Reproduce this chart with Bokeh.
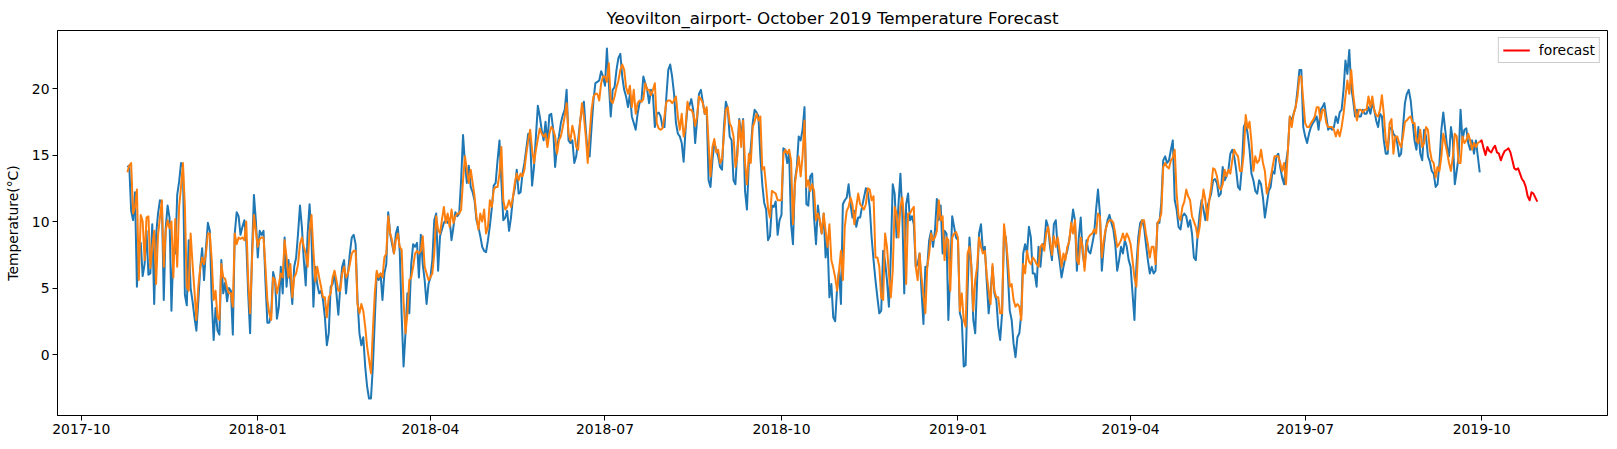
import pandas as pd
from bokeh.plotting import figure
from bokeh.models import Range1d, FixedTicker, DatetimeTickFormatter, Legend, LegendItem
from bokeh.embed import file_html
from bokeh.resources import INLINE

# ---------------- data ----------------
title_text = "Yeovilton_airport- October 2019 Temperature Forecast"
y_label = "Temperature(°C)"
x_tick_labels = ["2017-10", "2018-01", "2018-04", "2018-07", "2018-10",
                 "2019-01", "2019-04", "2019-07", "2019-10"]
y_tick_values = [0, 5, 10, 15, 20]
legend_label = "forecast"

actual_start = "2017-10-25"      # daily observed temperature (blue)
fitted_start = "2017-10-25"      # daily model fit (orange)
forecast_start = "2019-09-30"    # daily forecast (red)

actual_temp = [
    14.1, 14.2, 10.8, 10.1, 12.2, 5.1, 8.3, 8.4, 5.9, 6.8,
    9.3, 6.0, 6.1, 9.8, 3.8, 9.0, 10.6, 11.6, 11.5, 4.1,
    9.5, 11.2, 10.3, 3.3, 7.8, 7.6, 12.0, 13.0, 14.4, 14.1,
    4.5, 3.7, 8.6, 5.0, 4.0, 2.8, 1.8, 4.0, 6.5, 8.0,
    5.6, 8.0, 9.9, 9.3, 4.1, 1.1, 3.5, 1.8, 1.5, 7.1,
    4.6, 5.4, 4.0, 5.0, 4.8, 1.5, 9.1, 10.7, 10.4, 9.0,
    9.6, 10.1, 8.5, 4.6, 1.6, 7.6, 12.0, 10.1, 7.3, 9.3,
    9.0, 9.3, 5.5, 2.4, 2.4, 3.1, 6.2, 5.6, 2.7, 3.6,
    6.6, 4.6, 8.8, 5.1, 7.1, 5.5, 3.8, 6.6, 7.3, 9.1,
    11.2, 9.6, 7.1, 5.2, 9.1, 11.3, 8.8, 3.6, 6.6, 5.3,
    4.6, 4.8, 4.1, 2.8, 0.7, 1.6, 5.1, 5.3, 6.2, 4.6,
    3.0, 5.1, 6.6, 7.1, 4.6, 6.1, 7.6, 8.8, 9.0, 8.3,
    4.1, 1.6, 0.7, 1.3, -0.9, -2.4, -3.3, -3.3, -0.9, 2.6,
    6.1, 5.6, 6.1, 4.1, 6.1, 6.8, 10.7, 9.1, 8.3, 7.6,
    9.1, 9.6, 7.8, 3.0, -0.9, 1.6, 4.6, 3.1, 6.8, 8.3,
    8.1, 8.4, 5.8, 9.0, 6.8, 5.6, 3.8, 5.3, 5.8, 7.1,
    10.1, 10.6, 6.3, 8.9, 9.4, 9.9, 10.1, 9.9, 10.2, 8.6,
    9.6, 10.7, 10.4, 10.6, 13.1, 16.5, 14.4, 12.9, 14.2, 12.6,
    12.2, 11.6, 10.1, 9.6, 8.9, 8.1, 7.8, 7.7, 8.6, 9.7,
    11.0, 12.7, 12.9, 14.6, 16.1, 13.0, 10.1, 10.3, 10.8, 9.3,
    10.3, 11.8, 12.5, 13.9, 12.1, 12.2, 13.6, 14.4, 15.5, 16.6,
    16.1, 12.7, 14.1, 16.4, 18.7, 17.9, 16.9, 16.1, 17.5, 15.9,
    18.0, 18.1, 16.9, 14.1, 15.6, 16.4, 17.4, 18.0, 18.4, 19.9,
    16.1, 15.9, 16.1, 14.4, 14.9, 16.1, 17.5, 18.4, 19.0, 16.9,
    15.1, 14.9, 17.1, 19.1, 20.4, 20.5, 20.6, 21.3, 20.9, 20.2,
    23.0, 20.4, 17.9, 19.9, 20.1, 21.4, 22.3, 22.6, 20.9, 19.9,
    19.4, 18.6, 19.6, 17.9, 17.4, 16.9, 18.1, 18.9, 19.1, 20.9,
    20.4, 19.9, 18.9, 19.9, 19.5, 17.1, 18.1, 18.2, 17.9, 17.1,
    17.1, 19.4, 21.4, 21.8, 20.9, 19.6, 17.4, 16.6, 16.4, 15.9,
    14.5, 16.9, 18.6, 18.7, 19.2, 18.4, 15.9, 17.6, 19.6, 19.9,
    19.0, 18.1, 18.4, 13.1, 12.6, 14.6, 15.9, 15.4, 14.9, 14.1,
    13.9, 17.1, 19.0, 18.5, 16.4, 16.1, 13.1, 12.8, 15.4, 17.7,
    16.4, 17.7, 12.3, 10.9, 14.4, 15.5, 17.4, 18.4, 18.2, 17.9,
    14.9, 12.8, 11.4, 10.9, 8.6, 8.9, 11.2, 11.1, 11.5, 9.0,
    10.1, 10.5, 15.5, 15.4, 14.4, 15.1, 9.8, 8.3, 13.1, 14.1,
    16.4, 16.1, 16.9, 18.6, 11.3, 11.2, 13.4, 13.6, 10.3, 8.3,
    11.2, 10.0, 9.1, 10.6, 7.3, 8.6, 4.3, 5.3, 2.8, 2.5,
    5.0, 6.3, 3.8, 11.3, 11.6, 11.8, 12.8, 11.3, 10.3, 10.8,
    9.6, 10.3, 10.3, 11.1, 11.8, 12.5, 12.2, 11.1, 8.8, 7.1,
    5.6, 4.3, 3.1, 3.3, 7.8, 7.0, 5.6, 3.6, 7.5, 12.8,
    12.1, 8.8, 11.3, 13.6, 10.6, 4.6, 11.3, 12.1, 10.1, 10.4,
    9.8, 6.6, 6.8, 7.6, 4.8, 2.3, 6.6, 6.6, 8.6, 9.3,
    8.1, 9.3, 11.7, 10.1, 11.2, 7.6, 9.3, 9.1, 2.6, 6.3,
    10.4, 9.6, 8.8, 8.6, 3.1, 2.6, -0.9, -0.8, 4.8, 8.8,
    6.6, 2.6, 1.6, 5.6, 9.1, 9.8, 7.8, 8.1, 5.5, 3.1,
    4.6, 6.6, 4.6, 4.1, 2.1, 1.1, 3.1, 9.1, 8.8, 6.1,
    3.3, 2.6, 0.8, -0.2, 1.3, 1.6, 3.1, 7.6, 8.3, 7.6,
    9.6, 8.8, 6.1, 6.1, 5.1, 8.1, 6.6, 8.3, 8.3, 10.1,
    9.6, 8.1, 7.1, 9.8, 10.1, 8.0, 7.0, 5.8, 6.6, 7.3,
    7.8, 8.6, 9.6, 10.9, 10.1, 6.3, 8.8, 10.3, 7.6, 6.6,
    8.6, 7.8, 7.6, 8.3, 9.1, 10.9, 12.4, 10.6, 6.3, 8.1,
    9.4, 10.1, 10.5, 9.9, 9.4, 8.3, 6.3, 7.1, 8.1, 7.6,
    8.6, 8.1, 7.1, 6.6, 4.6, 2.6, 6.6, 8.8, 9.9, 10.1,
    9.6, 8.3, 7.1, 6.1, 6.6, 6.1, 6.3, 9.9, 9.9, 11.4,
    14.6, 14.9, 14.4, 14.6, 15.4, 16.1, 11.6, 10.9, 9.6, 9.4,
    10.4, 10.6, 10.4, 9.6, 10.1, 9.1, 7.3, 7.1, 9.1, 10.6,
    11.6, 10.9, 10.1, 11.1, 11.6, 12.1, 13.1, 13.2, 12.9, 11.9,
    12.1, 14.1, 13.1, 13.4, 13.9, 15.1, 15.4, 14.9, 13.9, 12.6,
    12.4, 14.1, 17.1, 17.5, 16.6, 15.4, 13.6, 13.1, 12.3, 12.1,
    13.1, 12.8, 11.8, 10.3, 11.3, 12.3, 12.6, 13.8, 13.6, 14.9,
    15.1, 14.1, 13.3, 12.8, 14.4, 15.4, 17.9, 17.6, 18.1, 18.6,
    19.9, 21.4, 21.4, 17.1, 16.4, 15.9, 16.6, 17.1, 17.4, 17.6,
    17.9, 16.9, 18.4, 18.6, 18.9, 17.9, 16.9, 17.1, 16.9, 17.1,
    17.9, 17.4, 18.2, 18.4, 19.9, 22.1, 21.1, 22.9, 20.1, 19.1,
    17.9, 18.4, 17.9, 17.9, 18.4, 18.1, 18.1, 18.6, 18.1, 18.9,
    18.4, 17.6, 17.1, 18.1, 17.9, 16.1, 15.1, 15.1, 16.9, 17.1,
    16.6, 16.4, 15.9, 14.9, 15.1, 17.1, 18.9, 19.6, 19.9, 19.1,
    17.6, 16.1, 15.4, 17.1, 15.1, 14.6, 16.9, 16.4, 14.9, 14.5,
    13.8, 13.6, 12.6, 12.8, 14.4, 16.9, 18.2, 16.9, 15.6, 14.9,
    17.1, 16.1, 12.8, 13.8, 14.9, 18.4, 16.1, 16.9, 17.0, 15.9,
    15.4, 16.1, 15.1, 16.1, 14.9, 13.7,
]

fitted_temp = [
    13.7, 14.2, 14.4, 10.6, 11.1, 12.4, 5.6, 10.5, 10.0, 7.1,
    10.3, 10.4, 6.5, 8.1, 9.3, 5.3, 9.0, 10.3, 11.6, 6.6,
    9.3, 10.1, 9.5, 10.0, 5.8, 10.2, 6.6, 11.1, 12.6, 14.4,
    11.1, 5.1, 4.8, 9.1, 6.8, 4.8, 2.6, 5.1, 6.5, 7.3,
    6.8, 7.6, 9.1, 9.1, 7.1, 4.1, 4.8, 2.8, 2.6, 6.8,
    5.8, 5.7, 5.0, 4.6, 4.6, 3.6, 9.1, 8.3, 8.8, 8.7,
    8.8, 8.6, 10.0, 5.6, 3.1, 7.1, 10.5, 9.3, 8.1, 8.7,
    8.8, 8.8, 6.6, 4.1, 3.1, 2.6, 5.8, 5.6, 4.6, 5.3,
    6.1, 5.8, 8.6, 7.3, 5.8, 6.8, 4.3, 5.8, 6.1, 6.8,
    8.3, 8.8, 8.1, 7.6, 6.6, 9.3, 10.5, 7.8, 5.5, 6.6,
    5.8, 5.1, 4.3, 4.3, 2.8, 4.3, 4.6, 5.8, 6.3, 5.6,
    4.8, 4.8, 6.1, 6.6, 5.8, 6.1, 6.8, 7.6, 7.8, 7.8,
    3.8, 3.1, 3.8, 3.3, 2.1, 0.6, -0.4, -1.4, 1.8, 4.6,
    6.3, 5.8, 6.1, 5.8, 7.3, 7.6, 10.4, 9.1, 8.6, 7.6,
    8.6, 9.1, 8.1, 7.9, 4.0, 1.6, 3.1, 5.6, 5.8, 6.6,
    7.6, 7.8, 7.6, 7.8, 8.9, 6.6, 6.1, 5.6, 5.8, 6.1,
    7.6, 10.4, 9.4, 9.1, 10.1, 11.1, 9.9, 10.6, 9.6, 10.9,
    9.9, 10.4, 10.6, 10.6, 10.9, 13.1, 14.9, 13.9, 12.9, 13.9,
    12.9, 11.9, 10.4, 9.4, 10.6, 10.0, 10.9, 9.1, 9.6, 11.6,
    11.1, 12.4, 12.6, 12.6, 13.6, 15.6, 11.6, 10.9, 11.1, 11.6,
    11.1, 11.8, 12.9, 13.6, 13.1, 13.6, 13.4, 13.9, 15.1, 16.1,
    16.9, 15.4, 14.4, 15.4, 16.2, 17.0, 16.6, 16.4, 16.6, 15.6,
    16.6, 17.1, 16.9, 16.4, 15.1, 16.1, 16.4, 17.1, 17.9, 18.9,
    16.6, 16.1, 17.2, 16.6, 15.6, 15.4, 17.4, 18.9, 17.9, 16.4,
    14.4, 16.6, 18.4, 19.4, 19.6, 19.6, 19.1, 20.4, 20.9, 20.9,
    20.5, 21.9, 19.1, 18.9, 19.4, 20.1, 20.6, 21.4, 21.8, 21.4,
    20.1, 19.6, 20.2, 18.6, 19.9, 18.1, 18.9, 19.1, 19.0, 19.2,
    20.4, 19.9, 19.9, 19.5, 19.9, 20.4, 17.4, 17.0, 16.9, 17.0,
    17.9, 19.0, 19.1, 19.1, 18.9, 19.1, 19.4, 17.9, 16.9, 18.1,
    16.4, 17.1, 19.0, 18.4, 18.4, 18.1, 17.2, 17.9, 19.4, 19.2,
    18.9, 18.1, 18.6, 15.9, 13.4, 15.6, 16.2, 15.2, 15.4, 14.4,
    14.7, 16.5, 18.4, 18.6, 17.4, 17.1, 16.4, 14.1, 14.9, 17.6,
    15.6, 17.6, 14.4, 12.8, 15.1, 14.4, 17.1, 17.5, 18.1, 17.6,
    17.9, 13.9, 14.1, 12.6, 11.0, 10.3, 12.3, 12.2, 12.1, 11.6,
    11.6, 11.6, 15.1, 15.4, 15.1, 15.4, 14.6, 9.8, 12.8, 13.9,
    14.9, 13.4, 14.9, 17.6, 12.6, 13.1, 12.3, 12.8, 12.3, 10.1,
    10.6, 10.1, 9.1, 10.6, 9.3, 8.1, 9.8, 7.1, 6.5, 5.8,
    4.8, 6.3, 7.8, 5.6, 9.6, 10.8, 11.1, 11.8, 11.3, 9.8,
    11.1, 12.1, 11.3, 11.1, 10.9, 11.3, 12.5, 12.4, 11.6, 11.9,
    7.3, 7.3, 6.6, 4.3, 4.1, 9.1, 8.1, 6.1, 4.3, 6.3,
    11.1, 10.6, 8.8, 11.1, 11.8, 10.1, 5.3, 10.6, 10.6, 10.9,
    11.1, 6.6, 5.6, 7.6, 5.8, 4.5, 3.1, 6.6, 7.6, 9.1,
    8.6, 8.8, 9.3, 11.6, 10.1, 10.4, 7.1, 8.8, 8.6, 4.8,
    8.8, 9.1, 9.2, 8.8, 3.3, 4.6, 2.6, 2.1, 7.6, 8.1,
    6.6, 3.3, 5.6, 6.6, 8.8, 8.1, 7.6, 7.8, 6.0, 4.8,
    3.8, 6.8, 4.8, 4.3, 4.3, 3.1, 3.1, 9.8, 8.6, 7.1,
    5.1, 5.3, 4.1, 3.6, 3.8, 3.6, 2.6, 6.8, 6.1, 7.8,
    7.0, 6.8, 7.3, 7.1, 6.8, 6.6, 8.1, 8.3, 7.8, 9.1,
    9.6, 8.6, 7.5, 8.9, 8.1, 8.8, 7.8, 6.6, 7.6, 7.1,
    8.1, 8.5, 9.9, 9.1, 10.1, 7.1, 6.8, 8.8, 8.1, 6.3,
    8.1, 8.8, 9.0, 9.1, 9.4, 9.1, 10.6, 10.4, 7.3, 8.6,
    9.4, 9.9, 10.1, 10.1, 9.9, 9.1, 8.1, 8.3, 8.6, 9.1,
    8.6, 9.1, 8.8, 8.3, 7.1, 5.8, 5.1, 8.1, 9.4, 10.1,
    10.1, 9.1, 8.3, 7.3, 8.1, 8.1, 6.8, 9.9, 10.1, 10.6,
    14.1, 14.4, 14.1, 14.0, 14.6, 14.8, 15.4, 12.1, 10.4, 10.1,
    11.1, 11.5, 12.4, 11.9, 11.6, 10.4, 10.0, 9.6, 8.8, 9.6,
    11.1, 12.4, 11.6, 10.1, 11.6, 12.6, 14.0, 13.9, 13.4, 12.6,
    12.4, 12.8, 13.9, 13.4, 13.9, 13.6, 14.6, 15.4, 15.1, 14.9,
    13.8, 13.8, 15.1, 18.0, 17.0, 17.5, 16.0, 13.8, 14.9, 14.4,
    14.6, 15.4, 14.4, 13.8, 12.1, 12.6, 13.3, 14.1, 14.9, 14.9,
    14.9, 14.4, 13.8, 14.4, 12.8, 15.4, 17.9, 17.1, 18.1, 18.6,
    19.4, 20.9, 20.9, 19.1, 17.4, 17.1, 17.1, 17.4, 17.6, 17.9,
    18.6, 18.6, 17.6, 18.4, 18.4, 17.4, 17.1, 17.1, 17.1, 16.9,
    16.4, 16.9, 16.4, 17.1, 18.1, 19.4, 20.6, 19.6, 21.4, 19.6,
    18.4, 17.6, 18.4, 18.4, 18.2, 18.4, 18.4, 19.4, 18.6, 19.4,
    18.4, 18.0, 17.9, 18.4, 19.5, 18.1, 16.1, 15.4, 17.4, 17.7,
    15.1, 16.4, 16.4, 15.9, 15.6, 16.4, 17.5, 17.6, 17.8, 17.9,
    17.4, 17.4, 16.1, 15.9, 16.9, 15.6, 15.9, 17.1, 16.9, 15.4,
    14.6, 14.4, 13.3, 14.1, 13.8, 14.9, 16.6, 15.9, 15.2, 14.4,
    13.8, 14.9, 16.6, 16.4, 14.4, 14.4, 16.4, 15.9, 16.1, 16.6,
    16.1, 15.4, 15.9, 15.6, 15.9, 16.0,
]

forecast_temp = [
    16.0, 16.1, 15.5, 15.0, 15.6, 15.3, 15.2, 15.5, 15.7, 15.2,
    15.1, 14.6, 15.0, 15.3, 15.4, 15.5, 15.2, 14.6, 14.0, 13.9,
    14.0, 13.6, 13.2, 13.0, 12.6, 11.9, 11.6, 12.2, 12.1, 11.8,
    11.5,
]

# ---------------- build ----------------
actual_dates = pd.date_range(actual_start, periods=len(actual_temp), freq="D")
fitted_dates = pd.date_range(fitted_start, periods=len(fitted_temp), freq="D")
forecast_dates = pd.date_range(forecast_start, periods=len(forecast_temp), freq="D")

FONT = "DejaVu Sans"
anchor = pd.Timestamp("2017-10-01")
x_range = Range1d(start=(anchor - pd.Timedelta(days=12.4)).to_pydatetime(),
                  end=(anchor + pd.Timedelta(days=795.6)).to_pydatetime())
y_range = Range1d(start=-4.58, end=24.36)

p = figure(width=1610, height=440, x_axis_type="datetime",
           x_range=x_range, y_range=y_range,
           output_backend="svg", toolbar_location=None,
           min_border_left=57, min_border_right=3,
           min_border_top=30, min_border_bottom=25,
           background_fill_color="white", border_fill_color="white")

p.title.text = title_text
p.title.align = "center"
p.title.text_font = FONT
p.title.text_font_size = "16.7px"
p.title.text_font_style = "normal"
p.title.text_color = "black"
p.title.standoff = 5

p.xgrid.visible = False
p.ygrid.visible = False
p.outline_line_color = "black"
p.outline_line_width = 1
p.outline_line_alpha = 1.0

tick_ms = [pd.Timestamp(lbl + "-01").timestamp() * 1000.0 for lbl in x_tick_labels]
p.xaxis.ticker = FixedTicker(ticks=tick_ms)
fmt = "%Y-%m"
p.xaxis.formatter = DatetimeTickFormatter(
    microseconds=fmt, milliseconds=fmt, seconds=fmt, minsec=fmt, minutes=fmt,
    hourmin=fmt, hours=fmt, days=fmt, months=fmt, years=fmt)
p.yaxis.ticker = FixedTicker(ticks=y_tick_values)
p.yaxis.axis_label = y_label

for ax in (p.xaxis, p.yaxis):
    ax.axis_line_color = "black"
    ax.axis_line_width = 1
    ax.major_tick_line_color = "black"
    ax.major_tick_line_width = 1
    ax.major_tick_out = 5
    ax.major_tick_in = 0
    ax.minor_tick_line_color = None
    ax.major_label_text_font = FONT
    ax.major_label_text_font_size = "13.9px"
    ax.major_label_text_color = "black"
    ax.major_label_standoff = 3
    ax.axis_label_text_font = FONT
    ax.axis_label_text_font_size = "13.9px"
    ax.axis_label_text_font_style = "normal"
    ax.axis_label_text_color = "black"
p.yaxis.axis_label_standoff = 8

p.line(actual_dates, actual_temp, line_color="#1f77b4", line_width=2, line_join="round")
p.line(fitted_dates, fitted_temp, line_color="#ff7f0e", line_width=2, line_join="round")
r_fc = p.line(forecast_dates, forecast_temp, line_color="#ff0000", line_width=2, line_join="round")

legend = Legend(items=[LegendItem(label=legend_label, renderers=[r_fc])],
                location="top_right", orientation="vertical",
                margin=7, padding=4, spacing=0,
                glyph_width=27, glyph_height=16, label_height=16,
                label_standoff=9, label_text_font=FONT,
                label_text_font_size="13.9px", label_text_color="black",
                border_line_color="#cccccc", border_line_width=1, border_line_alpha=1.0,
                background_fill_color="white", background_fill_alpha=0.8)
p.add_layout(legend)

open("out.html", "w").write(file_html(p, INLINE))
